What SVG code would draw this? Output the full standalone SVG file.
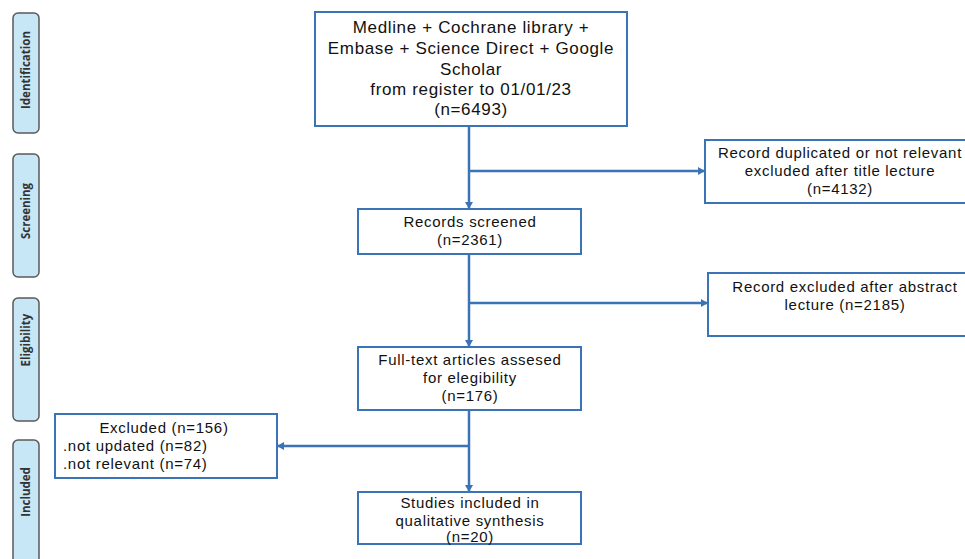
<svg xmlns="http://www.w3.org/2000/svg" width="965" height="559" viewBox="0 0 965 559">
<style>
.side{fill:#c7e6f6;stroke:#5a5a5a;stroke-width:1.5}
.sl{font-family:"Open Sans","Noto Sans",sans-serif;font-weight:bold;font-size:11.5px;fill:#333;text-anchor:middle}
.box{fill:#fff;stroke:#3a73b6;stroke-width:2}
.t{font-family:"Liberation Sans",Arial,sans-serif;font-size:15px;letter-spacing:0.7px;fill:#111;text-anchor:middle}
.tb{font-family:"Liberation Sans",Arial,sans-serif;font-size:17px;letter-spacing:0.65px;fill:#111;text-anchor:middle}
.tl{font-family:"Liberation Sans",Arial,sans-serif;font-size:15px;letter-spacing:0.7px;fill:#111}
.c{fill:none;stroke:#3a73b6;stroke-width:2.5}
</style>
<defs>
<marker id="ah" markerWidth="8" markerHeight="8" refX="6" refY="4" orient="auto" markerUnits="userSpaceOnUse">
<path d="M0,0 L7,4 L0,8 z" fill="#3a73b6"/>
</marker>
</defs>
<rect width="965" height="559" fill="#fff"/>
<g id="stage-identification"><rect class="side" x="13" y="13" width="26" height="120" rx="5"/><text class="sl" transform="translate(30,70) rotate(-90)">Identification</text></g>
<g id="stage-screening"><rect class="side" x="13" y="154" width="26" height="123" rx="5"/><text class="sl" transform="translate(30,211) rotate(-90)">Screening</text></g>
<g id="stage-eligibility"><rect class="side" x="13" y="298" width="26" height="123" rx="5"/><text class="sl" transform="translate(30,340) rotate(-90)">Eligibility</text></g>
<g id="stage-included"><rect class="side" x="13" y="440" width="26" height="125" rx="5"/><text class="sl" transform="translate(30,492) rotate(-90)">Included</text></g>

<g id="connectors">
<line class="c" x1="469" y1="126" x2="469" y2="208" marker-end="url(#ah)"/>
<line class="c" x1="469" y1="171" x2="704" y2="171" marker-end="url(#ah)"/>
<line class="c" x1="469" y1="254" x2="469" y2="346" marker-end="url(#ah)"/>
<line class="c" x1="469" y1="303" x2="707" y2="303" marker-end="url(#ah)"/>
<line class="c" x1="469" y1="410" x2="469" y2="491" marker-end="url(#ah)"/>
<line class="c" x1="469" y1="446" x2="278" y2="446" marker-end="url(#ah)"/>
</g>

<g id="n-sources"><rect class="box" x="315" y="12" width="312" height="114"/>
<text class="tb" x="471" y="33">Medline + Cochrane library +</text>
<text class="tb" x="471" y="54">Embase + Science Direct + Google</text>
<text class="tb" x="471" y="75">Scholar</text>
<text class="tb" x="471" y="95">from register to 01/01/23</text>
<text class="tb" x="471" y="115">(n=6493)</text></g>

<g id="n-dup"><rect class="box" x="705" y="140" width="270" height="63"/>
<text class="t" x="840" y="158">Record duplicated or not relevant</text>
<text class="t" x="840" y="176">excluded after title lecture</text>
<text class="t" x="840" y="194">(n=4132)</text></g>

<g id="n-screened"><rect class="box" x="358" y="209" width="223" height="45"/>
<text class="t" x="470" y="227">Records screened</text>
<text class="t" x="470" y="245">(n=2361)</text></g>

<g id="n-abstract"><rect class="box" x="708" y="273" width="267" height="63"/>
<text class="t" x="845" y="292">Record excluded after abstract</text>
<text class="t" x="845" y="310">lecture (n=2185)</text></g>

<g id="n-fulltext"><rect class="box" x="358" y="347" width="223" height="63"/>
<text class="t" x="470" y="365">Full-text articles assesed</text>
<text class="t" x="470" y="383">for elegibility</text>
<text class="t" x="470" y="401">(n=176)</text></g>

<g id="n-excluded"><rect class="box" x="55" y="414" width="222" height="64"/>
<text class="t" x="164" y="433">Excluded (n=156)</text>
<text class="tl" x="63" y="451">.not updated (n=82)</text>
<text class="tl" x="63" y="469">.not relevant (n=74)</text></g>

<g id="n-included"><rect class="box" x="358" y="492" width="223" height="52"/>
<text class="t" x="470" y="508">Studies included in</text>
<text class="t" x="470" y="525.5">qualitative synthesis</text>
<text class="t" x="470" y="542">(n=20)</text></g>
</svg>
